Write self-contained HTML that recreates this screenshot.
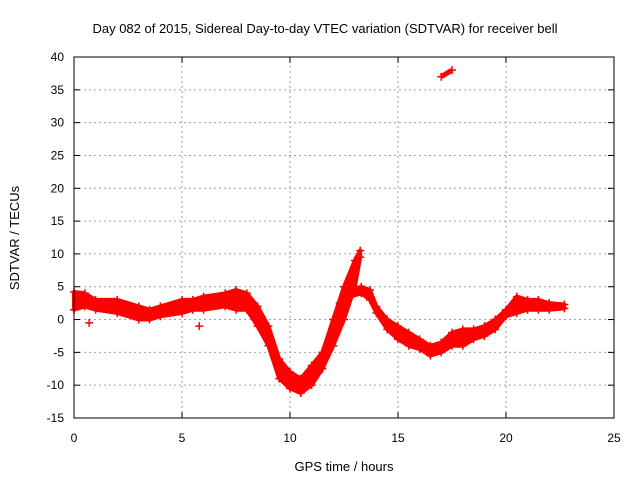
<!DOCTYPE html>
<html><head><meta charset="utf-8"><style>
body{margin:0;background:#fff}
svg text{font-family:"Liberation Sans",sans-serif;font-size:12px;fill:#000}
</style></head><body>
<svg id="c" width="640" height="480" xmlns="http://www.w3.org/2000/svg">
<text x="325" y="33" text-anchor="middle" style="font-size:13px">Day 082 of 2015, Sidereal Day-to-day VTEC variation (SDTVAR) for receiver bell</text>
<text x="344" y="471" text-anchor="middle" style="font-size:13px">GPS time / hours</text>
<text transform="translate(19,238) rotate(-90)" text-anchor="middle" style="font-size:13px">SDTVAR / TECUs</text>
<g id="grid"></g><g id="data"></g><g id="axes"></g>
</svg>
<script>
const xTicks=[0,5,10,15,20,25];
const yTicks=[-15,-10,-5,0,5,10,15,20,25,30,35,40];
const times=[0,0.5,1,2,3,3.5,4,5,5.5,6,7,7.5,8,8.5,9,9.5,10,10.5,11,11.5,12,12.5,13,13.25];
const upper=[4.2,4,3,3,2,1.5,2,3,3,3.5,4,4.5,4,2,-1,-6,-8,-9,-7,-5,0,5,9,10.5];
const lower=[1.5,2,1.5,1,0,0,0.5,1,1.5,1.5,2,1.5,1.5,-1,-4,-9,-10.5,-11.2,-10,-7.5,-4,0,5,9.5];
const times2=[12.3,12.8,13.3,13.7,14,14.5,15,15.5,16,16.5,17,17.5,18,18.5,19,19.5,20,20.5,21,21.5,22,22.7];
const upper2=[2.5,4.5,5,4.5,2,0,-1,-2,-3,-4,-3.5,-2,-1.5,-1.5,-1,0,1.5,3.5,3,3,2.5,2.3];
const lower2=[1,3.5,4,3,1,-1.5,-3,-4,-4.5,-5.5,-5,-4,-4,-3,-2.5,-1.5,0.5,1,1.5,1.5,1.5,1.7];
const outT=[0.7,5.8,17,17.5];
const outV=[-0.5,-1,37,38];
const X0=74,X1=614,Y0=418,Y1=57;
const sx=t=>X0+(t-0)/25*(X1-X0);
const sy=v=>Y0-(v+15)/55*(Y0-Y1);
const NS="http://www.w3.org/2000/svg";
function mk(tag,attrs,parent){const e=document.createElementNS(NS,tag);for(const k in attrs)e.setAttribute(k,attrs[k]);parent.appendChild(e);return e;}
const grid=document.getElementById('grid'),axes=document.getElementById('axes'),data=document.getElementById('data');
xTicks.forEach(t=>{
 if(t>0&&t<25){const l=mk('line',{x1:sx(t),x2:sx(t),y1:Y0,y2:Y1,stroke:'#a0a0a0','stroke-dasharray':'2,3'},grid);
 
 }
 const tx=mk('text',{x:sx(t),y:Y0+24,'text-anchor':'middle'},axes);tx.textContent=t;
 
 
 mk('line',{x1:sx(t),x2:sx(t),y1:Y0,y2:Y0-6,stroke:'#000'},axes);
 mk('line',{x1:sx(t),x2:sx(t),y1:Y1,y2:Y1+6,stroke:'#000'},axes);
});
yTicks.forEach(v=>{
 if(v>-15&&v<40){const l=mk('line',{x1:X0,x2:X1,y1:sy(v),y2:sy(v),stroke:'#a0a0a0','stroke-dasharray':'2,3'},grid);
 
 }
 const tx=mk('text',{x:X0-10,y:sy(v)+4,'text-anchor':'end'},axes);tx.textContent=v;
 
 
 mk('line',{x1:X0,x2:X0+6,y1:sy(v),y2:sy(v),stroke:'#000'},axes);
 mk('line',{x1:X1,x2:X1-6,y1:sy(v),y2:sy(v),stroke:'#000'},axes);
});
const fr=mk('rect',{x:X0,y:Y1,width:X1-X0,height:Y0-Y1,fill:'none',stroke:'#000'},axes);


function plus(t,v){mk('path',{d:`M${sx(t)-4},${sy(v)}h8M${sx(t)},${sy(v)-4}v8`,stroke:'#f00','stroke-width':1.5},data);}
function band(T,U,L,name){
 let d='M'+T.map((t,i)=>sx(t)+','+sy(U[i])).join('L')+'L'+T.slice().reverse().map((t,j)=>{const i=T.length-1-j;return sx(t)+','+sy(L[i]);}).join('L')+'Z';
 const p=mk('path',{d:d,fill:'#f00',stroke:'#f00','stroke-width':4,'stroke-linejoin':'round'},data);
 
 
 T.forEach((t,i)=>{plus(t,U[i]);plus(t,L[i]);});
}
band(times,upper,lower,'sdtvar-band-1');
band(times2,upper2,lower2,'sdtvar-band-2');
outT.forEach((t,i)=>plus(t,outV[i]));
mk('path',{d:`M${sx(outT[2])},${sy(outV[2])}L${sx(outT[3])},${sy(outV[3])}`,stroke:'#f00','stroke-width':5},data);
</script>
</body></html>
